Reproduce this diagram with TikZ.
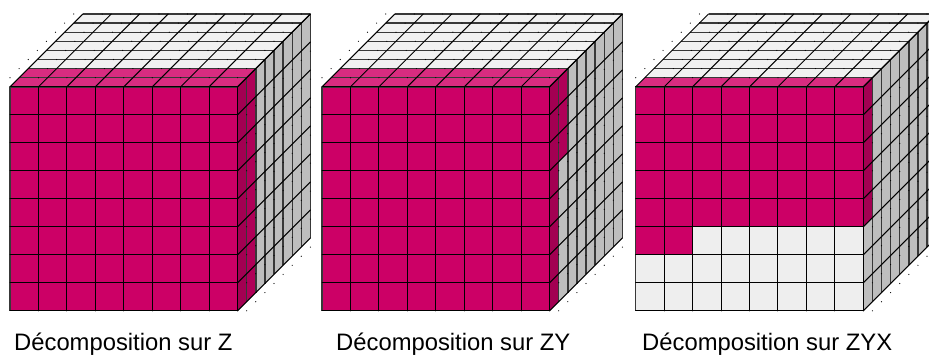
\documentclass[tikz,border=0pt]{standalone}
\usepackage{fontspec}
\setmainfont{Liberation Sans}
\definecolor{pinkfront}{RGB}{204,0,102}
\definecolor{pinktop}{RGB}{216,44,128}
\definecolor{pinkside}{RGB}{163,0,82}
\definecolor{pinkback}{RGB}{176,0,88}
\definecolor{greyfront}{RGB}{238,238,238}
\definecolor{greytop}{RGB}{241,241,241}
\definecolor{greyside}{RGB}{190,190,190}
\newcommand{\cw}{28.45}
\newcommand{\ch}{28}
\newcommand{\cd}{9.1}
\newcommand{\ctop}{86.8}
% faces: front (x, i1, j1, i2, j2), top (x, k1, k2), side (x, k, rows)
\newcommand{\frontface}[6]{\fill[#6] ({#1+#2*\cw},{\ctop+#3*\ch}) rectangle ({#1+#4*\cw},{\ctop+#5*\ch});}
\newcommand{\topface}[4]{\fill[#4] ({#1+#2*\cd},{\ctop-#2*\cd}) -- ({#1+#3*\cd},{\ctop-#3*\cd})
  -- ({#1+8*\cw+#3*\cd},{\ctop-#3*\cd}) -- ({#1+8*\cw+#2*\cd},{\ctop-#2*\cd}) -- cycle;}
\newcommand{\sideface}[4]{\fill[#4] ({#1+8*\cw+#2*\cd},{\ctop-#2*\cd}) -- ({#1+8*\cw+(#2+1)*\cd},{\ctop-(#2+1)*\cd})
  -- ({#1+8*\cw+(#2+1)*\cd},{\ctop-(#2+1)*\cd+#3*\ch}) -- ({#1+8*\cw+#2*\cd},{\ctop-#2*\cd+#3*\ch}) -- cycle;}
\newcommand{\greycube}[1]{
  \frontface{#1}{0}{0}{8}{8}{greyfront}
  \topface{#1}{0}{8}{greytop}
  \foreach \k in {0,...,7} {\sideface{#1}{\k}{8}{greyside}}
}
\newcommand{\cubegrid}[1]{
  \draw[softline] (#1,\ctop) -- (#1,{\ctop+8*\ch});
  \foreach \i in {0,...,8} {
    \draw[softline] ({#1+\i*\cd},{\ctop-\i*\cd}) -- ({#1+8*\cw+\i*\cd},{\ctop-\i*\cd});
    \draw[softline] ({#1+8*\cw+\i*\cd},{\ctop-\i*\cd}) -- ({#1+8*\cw+\i*\cd},{\ctop-\i*\cd+8*\ch});
  }
  \foreach \i in {0,...,8} {
    \ifnum\i>0 \draw[gridline] ({#1+\i*\cw},\ctop) -- ({#1+\i*\cw},{\ctop+8*\ch}); \fi
    \draw[gridline] ({#1+\i*\cw},\ctop) -- ({#1+\i*\cw+8*\cd},{\ctop-8*\cd});
    \draw[gridline] (#1,{\ctop+\i*\ch}) -- ({#1+8*\cw},{\ctop+\i*\ch});
    \draw[gridline] ({#1+8*\cw},{\ctop+\i*\ch}) -- ({#1+8*\cw+8*\cd},{\ctop+\i*\ch-8*\cd});
  }
  \draw[gridline] (#1,\ctop) -- ({#1+8*\cw},\ctop);
  \foreach \k in {1,...,8} {
    \foreach \i in {0,...,8} {
      \fill ({#1+\i*\cw+(\k-1)*\cd},{\ctop-\k*\cd}) circle (0.6);
    }
    \foreach \j in {1,...,8} {
      \fill ({#1+8*\cw+\k*\cd},{\ctop+\j*\ch-(\k-1)*\cd}) circle (0.6);
    }
  }
}
\tikzset{
  gridline/.style={draw=black, line width=1pt, line cap=round},
  softline/.style={draw=black!78, line width=1.4pt},
  caption/.style={anchor=base west, inner sep=0pt, font=\fontsize{23.8}{28}\selectfont}
}
\begin{document}
\begin{tikzpicture}[x=1pt,y=-1pt]
  \useasboundingbox (0,0) rectangle (929,354);
  % Z
  \greycube{10}
  \frontface{10}{0}{0}{8}{8}{pinkfront}
  \topface{10}{0}{2}{pinktop}
  \sideface{10}{0}{8}{pinkside}
  \sideface{10}{1}{8}{pinkback}
  \cubegrid{10}
  % ZY
  \greycube{322}
  \frontface{322}{0}{0}{8}{8}{pinkfront}
  \topface{322}{0}{2}{pinktop}
  \sideface{322}{0}{8}{pinkside}
  \sideface{322}{1}{3}{pinkback}
  \cubegrid{322}
  % ZYX
  \greycube{635.7}
  \frontface{635.7}{0}{0}{8}{5}{pinkfront}
  \frontface{635.7}{0}{5}{2}{6}{pinkfront}
  \topface{635.7}{0}{1}{pinktop}
  \sideface{635.7}{0}{5}{pinkside}
  \cubegrid{635.7}
  \node[caption] (capz) at (14,350) {Décomposition sur Z};
  \node[caption] (capzy) at (336,350) {Décomposition sur ZY};
  \node[caption] (capzyx) at (642,350) {Décomposition sur ZYX};
\end{tikzpicture}
\end{document}
